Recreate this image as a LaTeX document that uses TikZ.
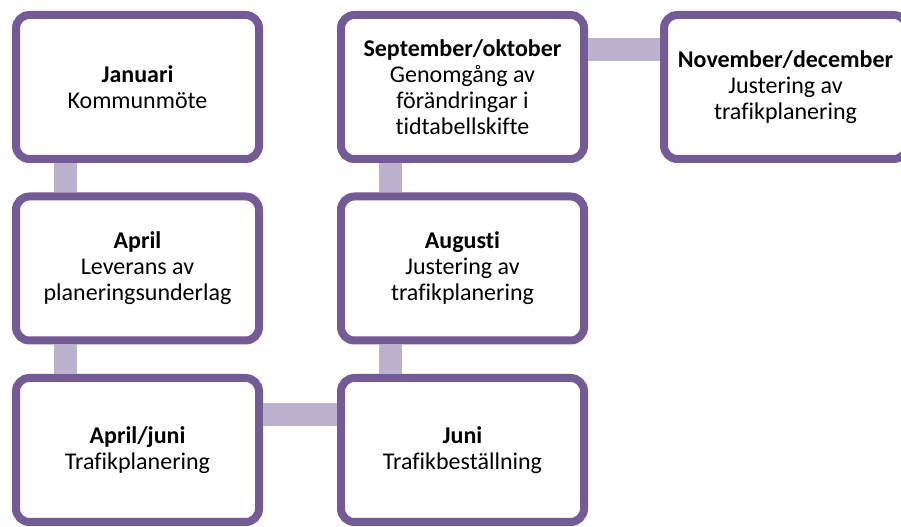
\documentclass[tikz,border=0pt]{standalone}
\usepackage{fontspec}
\setmainfont{Carlito}[Ligatures=NoCommon]
\usepackage{xcolor}
\usepackage{tikz}
\usetikzlibrary{positioning}

\definecolor{boxpurple}{RGB}{117,91,150}
\definecolor{linkpurple}{RGB}{188,178,208}

\begin{document}
\begin{tikzpicture}[
    node distance=22.125pt and 55.5pt,
    month/.style={rectangle, draw=boxpurple, line width=6pt, fill=white, minimum width=182.25pt, minimum height=108pt, inner sep=0pt, align=center, rounded corners=10pt, font=\fontsize{18}{19.5}\selectfont},
    link/.style={draw=linkpurple, line width=17.25pt},
]
\useasboundingbox (0,0) rectangle (675.75pt,-395.25pt);
\clip (0,0) rectangle (675.75pt,-395.25pt);

\node[month] (jan) at (103.125pt,-65.25pt) {\textbf{Januari}\\Kommunmöte};
\node[month, below=of jan] (apr) {\textbf{April}\\Leverans av\\planeringsunderlag};
\node[month, below=of apr] (aprjun) {\textbf{April/juni}\\Trafikplanering};
\node[month, right=of aprjun] (jun) {\textbf{Juni}\\Trafikbeställning};
\node[month, above=of jun] (aug) {\textbf{Augusti}\\Justering av\\trafikplanering};
\node[month, above=of aug] (sepokt) {\textbf{September/oktober}\\Genomgång av\\förändringar i\\tidtabellskifte};
\node[month, right=54pt of sepokt] (novdec) {\textbf{November/december}\\Justering av\\trafikplanering};

\draw[link] ([xshift=-54pt]jan.south) -- ([xshift=-54pt]apr.north);
\draw[link] ([xshift=-54pt]apr.south) -- ([xshift=-54pt]aprjun.north);
\draw[link] ([yshift=26.25pt]aprjun.east) -- ([yshift=26.25pt]jun.west);
\draw[link] ([xshift=-54pt]jun.north) -- ([xshift=-54pt]aug.south);
\draw[link] ([xshift=-54pt]aug.north) -- ([xshift=-54pt]sepokt.south);
\draw[link] ([yshift=27.75pt]sepokt.east) -- ([yshift=27.75pt]novdec.west);

\end{tikzpicture}
\end{document}
